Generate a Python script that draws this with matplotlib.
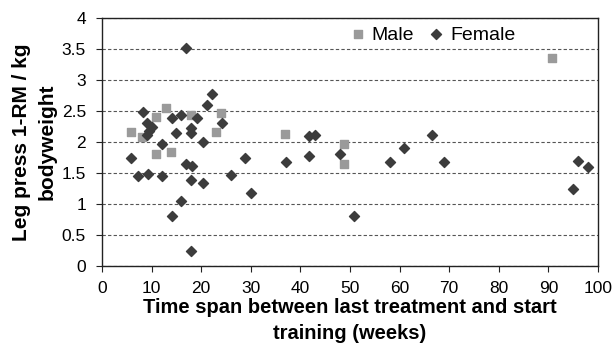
import matplotlib
matplotlib.use("Agg")
import matplotlib.pyplot as plt

plt.rcParams["font.family"] = ["Liberation Sans", "DejaVu Sans"]

# Male data (squares)
male_x = [5.8, 8.0, 10.9, 12.9, 10.9, 13.9, 17.9, 24.0, 22.9, 36.9, 48.8, 48.8, 90.7]
male_y = [2.16, 2.08, 2.41, 2.55, 1.80, 1.84, 2.43, 2.46, 2.16, 2.13, 1.97, 1.65, 3.35]

# Female data (diamonds)
female_x = [16.9, 22.1, 21.1, 8.2, 9.0, 10.1, 9.4, 9.0, 14.1, 15.9, 19.1, 17.9, 17.9,
            15.0, 20.3, 24.2, 12.1, 5.8, 7.2, 9.2, 12.1, 16.9, 18.1, 17.9, 20.3, 26.0,
            28.9, 30.0, 16.0, 14.1, 17.9, 37.1, 41.8, 42.9, 41.8, 48.0, 50.9, 58.0,
            60.9, 66.6, 69.0, 96.0, 98.0, 95.0]
female_y = [3.51, 2.78, 2.59, 2.49, 2.30, 2.25, 2.18, 2.11, 2.39, 2.44, 2.39, 2.23, 2.15,
            2.15, 2.00, 2.30, 1.96, 1.74, 1.45, 1.49, 1.45, 1.65, 1.61, 1.39, 1.34, 1.46,
            1.74, 1.17, 1.05, 0.81, 0.25, 1.68, 2.09, 2.11, 1.78, 1.81, 0.81, 1.67,
            1.91, 2.12, 1.68, 1.69, 1.59, 1.25]

fig = plt.figure(figsize=(6.13, 3.44), dpi=100)
ax = fig.add_axes([102 / 613, 1 - 266 / 344, 496 / 613, 248 / 344])

ax.scatter(male_x, male_y, marker="s", s=30, color="#9a9a9a", label="Male", zorder=3)
ax.scatter(female_x, female_y, marker="D", s=26, color="#3c3c3c", label="Female", zorder=3)

ax.set_xlim(0, 100)
ax.set_ylim(0, 4)
ax.set_xticks(range(0, 101, 10))
ax.set_yticks([0, 0.5, 1, 1.5, 2, 2.5, 3, 3.5, 4])
ax.set_yticklabels(["0", "0.5", "1", "1.5", "2", "2.5", "3", "3.5", "4"])
ax.yaxis.grid(True, linestyle=(0, (3, 2)), color="#555555", linewidth=0.8)
ax.set_axisbelow(True)
ax.tick_params(labelsize=12.5, length=4.5, color="#222222")
ax.tick_params(axis="x", pad=6)
ax.tick_params(axis="y", pad=7)
for sp in ax.spines.values():
    sp.set_color("#222222")
    sp.set_linewidth(1.0)

ax.set_xlabel("Time span between last treatment and start\ntraining (weeks)",
              fontsize=14.5, fontweight="bold", linespacing=1.45, labelpad=2)
ax.set_ylabel("Leg press 1-RM / kg\nbodyweight", fontsize=15, fontweight="bold",
              linespacing=1.4, labelpad=4)

ax.legend(loc="upper left", bbox_to_anchor=(0.496, 0.968), ncol=2, frameon=False,
          fontsize=14, handlelength=1.0, handletextpad=0.22, columnspacing=0.63,
          borderpad=0, borderaxespad=0)

fig.savefig("out.png", dpi=100)
